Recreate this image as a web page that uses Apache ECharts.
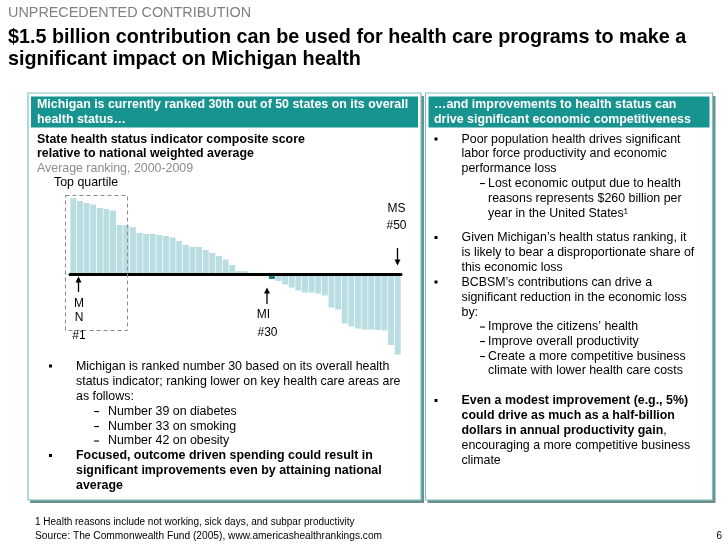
<!DOCTYPE html>
<html><head><meta charset="utf-8">
<script src="https://cdn.jsdelivr.net/npm/echarts@6/dist/echarts.min.js"></script>
<style>html,body{margin:0;padding:0;background:#fff}#c{width:728px;height:546px}</style>
</head><body><div id="c"></div>
<script>
// ---- data ----
const ranks = ['1','2','3','4','5','6','7','8','9','10','11','12','13','14','15','16','17','18','19','20','21','22','23','24','25','26','27','28','29','30','31','32','33','34','35','36','37','38','39','40','41','42','43','44','45','46','47','48','49','50'];
const scores = [76.5,73.5,71.5,70,66.5,65.5,64,49.5,49.5,47.5,
  41.5,40.5,40.5,39.5,38.5,37,33.5,29.5,27.5,27.5,
  24.5,21.5,18.5,15,9.5,3.5,3.3,0.6,0.3,-0.3,
  -4.5,-6.5,-10,-13,-16,-18,-18,-19,-21,-33,
  -35,-49,-52,-54,-55,-55,-55.5,-56,-70.5,-80];
const michiganIndex = 30;

const FONT = '"Liberation Sans", Arial, sans-serif';
const TEAL = '#17948f';
const BAR = '#b9dde1';
const MI_COLOR = '#1d7f7c';
const BODY = 12.4;

const chart = echarts.init(document.getElementById('c'), null, {renderer: 'canvas'});

function T(x, y, text, o) {
  o = o || {};
  return {
    type: 'text', z: 100,
    style: {
      x: x, y: y, text: text,
      fill: o.fill || '#000',
      font: (o.bold ? 'bold ' : '') + (o.size || BODY) + 'px ' + FONT,
      textAlign: o.align || 'left', align: o.align || 'left',
      textVerticalAlign: 'middle', verticalAlign: 'middle',
      rich: o.rich
    }
  };
}
function R(x, y, w, h, style, z) {
  return {type: 'rect', z: z || 1, shape: {x: x, y: y, width: w, height: h}, style: style};
}
function sq(x, y) { return R(x, y, 3, 3, {fill: '#000'}, 100); }
function dash(x, y) { return R(x, y - 0.5, 5, 1.1, {fill: '#000'}, 100); }

const g = [];
// panels
g.push(R(30, 96, 394, 407, {fill: '#6e8f8f'}, 0));
g.push(R(28, 93, 393, 407, {fill: '#fff', stroke: '#7fc1c0', lineWidth: 1.2}, 1));
g.push(R(31, 96.5, 387, 31, {fill: TEAL}, 2));
g.push(R(427.5, 96, 288, 407, {fill: '#6e8f8f'}, 0));
g.push(R(425.5, 93, 287, 407, {fill: '#fff', stroke: '#7fc1c0', lineWidth: 1.2}, 1));
g.push(R(428.5, 96.5, 281, 31, {fill: TEAL}, 2));

// titles
g.push(T(8, 13, 'UNPRECEDENTED CONTRIBUTION', {size: 14.4, fill: '#7f7f7f'}));
g.push(T(8, 38, '$1.5 billion contribution can be used for health care programs to make a', {size: 19.8, bold: true}));
g.push(T(8, 60, 'significant impact on Michigan health', {size: 19.8, bold: true}));

// left header
g.push(T(37, 105, 'Michigan is currently ranked 30th out of 50 states on its overall', {size: 12.4, bold: true, fill: '#fff'}));
g.push(T(37, 120, 'health status…', {size: 12.4, bold: true, fill: '#fff'}));
g.push(T(37, 139.5, 'State health status indicator composite score', {bold: true}));
g.push(T(37, 154, 'relative to national weighted average', {bold: true}));
g.push(T(37, 168.5, 'Average ranking, 2000-2009', {fill: '#8c8c8c'}));
g.push(T(54, 183, 'Top quartile'));

// dashed top quartile box
g.push({type: 'rect', z: 50, shape: {x: 65.5, y: 195.5, width: 62, height: 135}, style: {fill: 'none', stroke: '#8a8a8a', lineWidth: 1, lineDash: [4, 3]}});

// annotations
function arrow(x, y1, y2) { // arrow head at y2
  const d = y2 > y1 ? 1 : -1;
  return [
    {type: 'line', z: 60, shape: {x1: x, y1: y1, x2: x, y2: y2 - d * 2}, style: {stroke: '#000', lineWidth: 1.3}},
    {type: 'polygon', z: 60, shape: {points: [[x - 3, y2 - d * 6], [x + 3, y2 - d * 6], [x, y2]]}, style: {fill: '#000'}}
  ];
}
g.push(...arrow(78.5, 292, 276.5));
g.push(T(79, 303.5, 'M', {size: 12, align: 'center'}));
g.push(T(79, 318, 'N', {size: 12, align: 'center'}));
g.push(T(79, 335.5, '#1', {size: 12, align: 'center'}));
g.push(...arrow(267, 304, 287.5));
g.push(T(263.5, 315, 'MI', {size: 12, align: 'center'}));
g.push(T(267.5, 333, '#30', {size: 12, align: 'center'}));
g.push(T(396.5, 208.5, 'MS', {size: 12, align: 'center'}));
g.push(T(396.5, 226, '#50', {size: 12, align: 'center'}));
g.push(...arrow(397.5, 248, 265.5));

// left bullets
g.push(sq(49, 364.5));
g.push(T(76, 366.7, 'Michigan is ranked number 30 based on its overall health'));
g.push(T(76, 381.5, 'status indicator; ranking lower on key health care areas are'));
g.push(T(76, 396.5, 'as follows:'));
g.push(dash(94, 411.5)); g.push(T(108, 411.5, 'Number 39 on diabetes'));
g.push(dash(94, 426.5)); g.push(T(108, 426.5, 'Number 33 on smoking'));
g.push(dash(94, 441)); g.push(T(108, 441, 'Number 42 on obesity'));
g.push(sq(49, 454));
g.push(T(76, 456, 'Focused, outcome driven spending could result in', {bold: true}));
g.push(T(76, 470.5, 'significant improvements even by attaining national', {bold: true}));
g.push(T(76, 485.5, 'average', {bold: true}));

// right header
g.push(T(434, 105, '…and improvements to health status can', {size: 12.4, bold: true, fill: '#fff'}));
g.push(T(434, 120, 'drive significant economic competitiveness', {size: 12.4, bold: true, fill: '#fff'}));

// right bullets
const RX = 461.5, DX = 480, SX = 488;
g.push(sq(434.5, 137.5));
g.push(T(RX, 139.5, 'Poor population health drives significant'));
g.push(T(RX, 154, 'labor force productivity and economic'));
g.push(T(RX, 168.5, 'performance loss'));
g.push(dash(DX, 183.5)); g.push(T(SX, 183.5, 'Lost economic output due to health'));
g.push(T(SX, 198.5, 'reasons represents $260 billion per'));
g.push(T(SX, 213.5, 'year in the United States¹'));
g.push(sq(434.5, 236));
g.push(T(RX, 238, 'Given Michigan’s health status ranking, it'));
g.push(T(RX, 253, 'is likely to bear a disproportionate share of'));
g.push(T(RX, 267.5, 'this economic loss'));
g.push(sq(434.5, 280.5));
g.push(T(RX, 282.5, 'BCBSM’s contributions can drive a'));
g.push(T(RX, 297.5, 'significant reduction in the economic loss'));
g.push(T(RX, 312.5, 'by:'));
g.push(dash(DX, 327)); g.push(T(SX, 327, 'Improve the citizens’ health'));
g.push(dash(DX, 341.5)); g.push(T(SX, 341.5, 'Improve overall productivity'));
g.push(dash(DX, 356.5)); g.push(T(SX, 356.5, 'Create a more competitive business'));
g.push(T(SX, 371, 'climate with lower health care costs'));
g.push(sq(434.5, 399));
g.push(T(RX, 401, 'Even a modest improvement (e.g., 5%)', {bold: true}));
g.push(T(RX, 416, 'could drive as much as a half-billion', {bold: true}));
g.push(T(RX, 431, '{b|dollars in annual productivity gain}{n|,}', {rich: {
  b: {font: 'bold ' + BODY + 'px ' + FONT, fill: '#000'}, n: {font: BODY + 'px ' + FONT, fill: '#000'}}}));
g.push(T(RX, 445.5, 'encouraging a more competitive business'));
g.push(T(RX, 460.5, 'climate'));

// footnotes
g.push(T(35, 522.5, '1 Health reasons include not working, sick days, and subpar productivity', {size: 10}));
g.push(T(35, 536, 'Source: The Commonwealth Fund (2005), www.americashealthrankings.com', {size: 10.2}));
g.push(T(722, 536, '6', {size: 10, align: 'right'}));

chart.setOption({
  animation: false,
  backgroundColor: '#fff',
  grid: {left: 70, top: 194.5, width: 331, height: 160, containLabel: false},
  xAxis: {
    type: 'category', data: ranks, z: 10,
    axisLine: {onZero: true, lineStyle: {color: '#000', width: 3}},
    axisTick: {show: false}, axisLabel: {show: false}, splitLine: {show: false}
  },
  yAxis: {type: 'value', min: -80, max: 80, show: false, splitLine: {show: false}},
  series: [{
    type: 'bar', data: scores, z: 5,
    barCategoryGap: '10%',
    itemStyle: {color: p => p.dataIndex === michiganIndex ? MI_COLOR : BAR}
  }],
  graphic: {elements: g}
});
</script></body></html>
